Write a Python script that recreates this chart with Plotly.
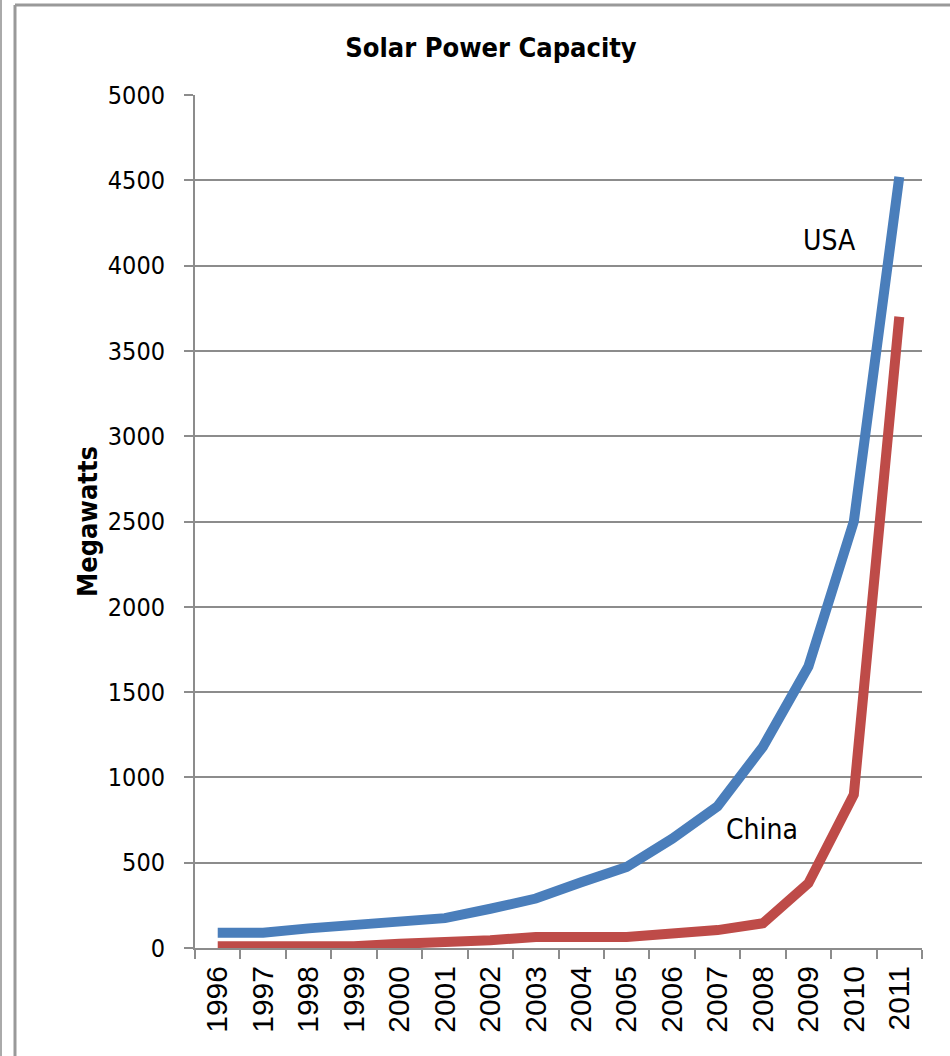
import plotly.graph_objects as go

years = ["1996", "1997", "1998", "1999", "2000", "2001", "2002", "2003",
         "2004", "2005", "2006", "2007", "2008", "2009", "2010", "2011"]
usa = [90, 90, 115, 135, 155, 175, 230, 290, 385, 475, 640, 830, 1180, 1650, 2500, 4520]
china = [10, 10, 10, 10, 25, 30, 45, 65, 65, 65, 85, 105, 145, 380, 900, 3700]
y_ticks = list(range(0, 5001, 500))

NARROW = "DejaVu Sans Condensed, sans-serif"
GRID = "#8c8c8c"

fig = go.Figure()
fig.add_trace(go.Scatter(x=years, y=usa, mode="lines", name="USA",
                         line=dict(color="#4A7EBB", width=10)))
fig.add_trace(go.Scatter(x=years, y=china, mode="lines", name="China",
                         line=dict(color="#BE4B48", width=10)))

fig.update_layout(
    width=950, height=1056,
    margin=dict(l=195, r=28, t=95, b=108),
    paper_bgcolor="white", plot_bgcolor="white",
    showlegend=False,
    title=dict(text="<b>Solar Power Capacity</b>", x=491 / 950,
               xanchor="center", y=1 - 48 / 1056, yanchor="middle",
               font=dict(family=NARROW, size=27, color="black")),
    xaxis=dict(type="category", range=[-0.5, 15.5], tickson="boundaries",
               showgrid=False, showline=True, linecolor=GRID, linewidth=2,
               ticks="outside", ticklen=9, tickwidth=2, tickcolor=GRID,
               tickangle=-90, ticklabelstandoff=4,
               tickfont=dict(family="Liberation Sans, Arial, sans-serif",
                             size=30, color="black")),
    yaxis=dict(range=[0, 5000], tickvals=y_ticks, showgrid=True, gridcolor=GRID,
               gridwidth=2, showline=True, linecolor=GRID, linewidth=2,
               ticks="outside", ticklen=9, tickwidth=2, tickcolor=GRID,
               ticklabelstandoff=14, zeroline=False,
               tickfont=dict(family=NARROW, size=25, color="black"),
               title=dict(text="<b>Megawatts</b>", standoff=2,
                          font=dict(family=NARROW, size=27, color="black"))),
    annotations=[
        dict(x=13.46, y=4150, xref="x", yref="y", text="USA", showarrow=False,
             font=dict(family=NARROW, size=28, color="black")),
        dict(x=11.98, y=692, xref="x", yref="y", text="China", showarrow=False,
             font=dict(family=NARROW, size=28, color="black")),
    ],
    shapes=[
        dict(type="line", xref="paper", yref="paper", x0=(15 - 195) / 727, x1=(950 - 195) / 727,
             y0=(948 - 5) / 853, y1=(948 - 5) / 853, line=dict(color="#999999", width=3)),
        dict(type="line", xref="paper", yref="paper", x0=(15 - 195) / 727, x1=(15 - 195) / 727,
             y0=(948 - 5) / 853, y1=(948 - 1056) / 853, line=dict(color="#999999", width=3)),
        dict(type="line", xref="paper", yref="paper", x0=(1 - 195) / 727, x1=(1 - 195) / 727,
             y0=(948 - 0) / 853, y1=(948 - 1056) / 853, line=dict(color="#aaaaaa", width=2)),
    ],
)

fig.write_html("out.html")
